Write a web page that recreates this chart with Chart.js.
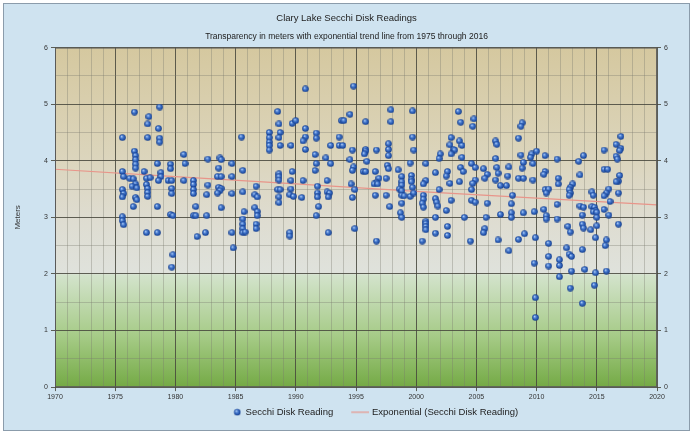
<!DOCTYPE html>
<html>
<head>
<meta charset="utf-8">
<script src="https://cdn.jsdelivr.net/npm/chart.js@4.4.1/dist/chart.umd.min.js"></script>
<style>
html,body{margin:0;padding:0;background:#ffffff;}
#wrap{width:693px;height:434px;position:relative;}
</style>
</head>
<body>
<div id="wrap"><canvas id="c" width="693" height="434"></canvas></div>
<script>
// ---------- DATA ----------
const chartTitle = "Clary Lake Secchi Disk Readings";
const chartSubtitle = "Transparency in meters with exponential trend line from 1975 through 2016";
const yAxisTitle = "Meters";
const seriesNames = ["Secchi Disk Reading", "Exponential (Secchi Disk Reading)"];

// [decimal year, meters]
const readings = [
[1976.6,4.86],[1978.7,4.95],[1977.8,4.78],[1977.7,4.65],[1978.6,4.57],[1975.6,4.41],[1977.7,4.41],
[1978.7,4.40],[1978.7,4.33],[1976.6,4.17],[1976.7,4.09],[1976.7,4.02],[1976.7,3.94],[1976.7,3.87],
[1980.7,4.11],[1980.8,3.95],[1982.7,4.03],[1978.5,3.95],[1979.6,3.94],[1979.6,3.86],[1975.6,3.81],
[1975.7,3.72],[1977.4,3.81],[1978.8,3.79],[1978.8,3.72],[1976.2,3.69],[1976.5,3.68],[1976.7,3.59],
[1977.6,3.69],[1977.9,3.70],[1978.6,3.65],[1979.4,3.65],[1979.7,3.65],[1980.7,3.65],[1981.5,3.65],
[1981.5,3.58],[1982.7,3.57],[1976.4,3.55],[1976.8,3.52],[1977.6,3.58],[1977.7,3.51],[1977.7,3.44],
[1977.7,3.37],[1975.6,3.49],[1975.7,3.42],[1975.6,3.36],[1976.7,3.35],[1976.8,3.31],[1979.7,3.51],
[1979.7,3.42],[1981.5,3.49],[1981.5,3.42],[1982.6,3.40],[1976.5,3.19],[1978.5,3.19],[1981.7,3.19],
[1979.6,3.05],[1979.8,3.03],[1981.5,3.03],[1981.7,3.03],[1982.6,3.03],[1975.6,3.01],[1975.6,2.94],
[1975.7,2.87],[1977.6,2.73],[1978.5,2.73],[1981.8,2.66],[1982.5,2.73],[1979.8,2.34],[1979.7,2.12],
[1990.8,5.27],[1994.8,5.32],[1988.5,4.87],[1988.6,4.65],[1989.7,4.66],[1990.0,4.71],[1993.8,4.71],
[1994.0,4.71],[1994.5,4.82],[1987.8,4.50],[1987.8,4.41],[1987.8,4.33],[1987.8,4.27],[1987.8,4.19],
[1988.7,4.50],[1988.6,4.41],[1988.7,4.27],[1989.6,4.27],[1990.8,4.57],[1990.8,4.42],[1990.6,4.35],
[1990.8,4.20],[1991.7,4.49],[1991.7,4.40],[1985.5,4.42],[1992.9,4.27],[1993.6,4.27],[1993.9,4.27],
[1994.7,4.19],[1993.6,4.42],[1991.6,4.11],[1983.7,4.05],[1983.8,4.02],[1984.7,3.95],[1992.5,4.05],
[1992.9,3.95],[1991.7,3.95],[1994.5,4.02],[1994.8,3.89],[1994.7,3.83],[1983.6,3.87],[1985.6,3.83],
[1991.6,3.83],[1989.7,3.81],[1983.5,3.72],[1983.8,3.72],[1984.7,3.72],[1988.6,3.77],[1988.6,3.72],
[1988.6,3.66],[1989.6,3.65],[1990.6,3.65],[1992.6,3.65],[1983.6,3.53],[1983.8,3.51],[1983.7,3.47],
[1986.7,3.55],[1994.6,3.59],[1994.9,3.49],[1991.8,3.55],[1991.8,3.43],[1991.8,3.36],[1988.5,3.49],
[1988.7,3.49],[1989.6,3.50],[1992.6,3.45],[1992.8,3.43],[1992.7,3.36],[1983.5,3.43],[1984.7,3.42],
[1985.6,3.45],[1986.6,3.40],[1986.8,3.36],[1989.5,3.40],[1989.8,3.37],[1990.5,3.35],[1988.6,3.36],
[1988.6,3.26],[1994.7,3.35],[1983.8,3.17],[1991.9,3.19],[1986.6,3.17],[1986.8,3.10],[1986.8,3.03],
[1985.7,3.10],[1991.7,3.03],[1985.6,2.97],[1985.6,2.88],[1985.6,2.80],[1985.6,2.73],[1985.8,2.74],
[1986.7,2.88],[1986.7,2.80],[1994.9,2.80],[1984.7,2.73],[1989.5,2.73],[1989.5,2.67],[1992.7,2.73],
[1984.8,2.46],
[1997.9,4.90],[1999.7,4.88],[1995.8,4.69],[1997.9,4.69],[2003.5,4.87],[2003.7,4.68],[2004.8,4.74],
[2004.7,4.61],[1999.7,4.42],[2002.9,4.41],[2003.6,4.35],[2003.8,4.27],[2006.6,4.35],[2006.7,4.29],
[1997.7,4.30],[1997.7,4.20],[1997.7,4.09],[1995.8,4.20],[1995.8,4.17],[1995.7,4.12],[1996.7,4.19],
[1999.8,4.19],[2002.8,4.28],[2003.1,4.20],[2003.2,4.19],[2002.9,4.12],[2002.0,4.12],[2001.9,4.04],
[2003.8,4.06],[2006.6,4.04],[1995.9,3.99],[1997.6,3.92],[1997.7,3.86],[1999.5,3.96],[2000.8,3.95],
[1995.6,3.81],[1995.8,3.81],[1996.6,3.81],[1998.5,3.84],[2001.6,3.79],[2002.6,3.81],[2002.5,3.73],
[2003.7,3.88],[2003.9,3.81],[2004.6,3.95],[2004.9,3.88],[2005.6,3.86],[2005.9,3.76],[2005.7,3.69],
[2006.7,3.88],[2006.8,3.78],[2007.6,3.73],[1996.9,3.69],[1996.7,3.62],[1997.5,3.69],[1998.8,3.72],
[1999.6,3.74],[1999.6,3.67],[1999.6,3.63],[2000.8,3.65],[2000.6,3.59],[1996.5,3.59],[1996.8,3.59],
[1998.8,3.63],[1998.8,3.57],[2002.8,3.60],[2003.6,3.63],[2004.9,3.66],[2004.7,3.60],[2006.6,3.66],
[2007.0,3.56],[1998.6,3.50],[1998.8,3.47],[1999.7,3.53],[2001.9,3.49],[2004.6,3.49],[2007.5,3.56],
[1996.6,3.39],[1997.5,3.39],[1998.8,3.39],[1999.0,3.38],[1999.5,3.37],[1999.8,3.43],[2000.6,3.39],
[2000.6,3.32],[2001.6,3.33],[2001.7,3.27],[2002.9,3.30],[2004.6,3.30],[2004.9,3.27],[2005.9,3.25],
[1997.8,3.19],[1998.8,3.25],[2000.5,3.25],[2000.6,3.18],[2001.8,3.20],[2002.5,3.12],[1998.7,3.08],
[1998.8,3.00],[2001.6,3.00],[2004.0,3.00],[2005.8,3.00],[2007.0,3.05],[2000.8,2.93],[2000.8,2.89],
[2000.8,2.84],[2000.8,2.78],[2002.6,2.84],[2005.7,2.80],[2005.6,2.73],[2001.6,2.72],[2002.6,2.68],
[1996.7,2.58],[2000.5,2.58],[2004.5,2.58],[2006.8,2.60],[2007.7,2.41],
[2008.8,4.67],[2008.7,4.61],[2008.5,4.40],[2017.0,4.43],[2016.6,4.29],[2017.0,4.22],[2016.9,4.18],
[2015.6,4.19],[2016.6,4.08],[2016.7,4.03],[2008.7,4.10],[2009.6,4.12],[2010.0,4.17],[2009.5,4.06],
[2010.7,4.09],[2011.7,4.03],[2013.9,4.09],[2013.5,3.99],[2008.9,3.97],[2008.8,3.87],[2009.7,3.95],
[2007.7,3.89],[2015.6,3.85],[2015.9,3.85],[2010.7,3.81],[2010.6,3.76],[2013.6,3.75],[2016.9,3.74],
[2016.8,3.64],[2016.6,3.63],[2008.5,3.69],[2008.9,3.69],[2009.7,3.66],[2011.8,3.69],[2011.8,3.59],
[2013.0,3.59],[2012.8,3.53],[2012.7,3.49],[2010.7,3.49],[2011.0,3.50],[2010.8,3.43],[2016.0,3.50],
[2015.8,3.43],[2015.6,3.38],[2016.8,3.43],[2012.8,3.43],[2012.7,3.39],[2014.6,3.45],[2014.7,3.39],
[2008.0,3.39],[2016.1,3.28],[2007.9,3.24],[2011.7,3.23],[2013.6,3.20],[2013.8,3.04],[2014.6,3.19],
[2014.8,3.18],[2014.9,3.12],[2014.7,3.10],[2015.0,3.09],[2013.9,3.18],[2015.6,3.14],[2016.0,3.04],
[2010.6,3.14],[2010.8,3.03],[2010.8,2.97],[2009.8,3.10],[2008.9,3.08],[2007.9,3.08],[2007.9,3.00],
[2011.7,2.97],[2015.0,3.00],[2015.0,2.85],[2013.8,2.88],[2013.9,2.81],[2014.5,2.78],[2012.6,2.84],
[2012.8,2.74],[2016.8,2.88],[2009.0,2.71],[2008.5,2.61],[2009.9,2.64],[2011.0,2.54],[2014.9,2.64],
[2015.8,2.60],[2015.7,2.50],[2012.5,2.46],[2012.7,2.35],[2012.9,2.31],[2011.0,2.31],[2011.9,2.25],
[2011.9,2.15],[2013.8,2.43],[2009.8,2.19],[2012.9,2.05],[2014.0,2.08],[2014.9,2.02],[2015.8,2.05],
[2011.9,1.95],[2011.0,2.14],[2009.9,1.58],[2009.9,1.23],[2013.8,1.48],[2012.8,1.75],[2014.8,1.80]
];

// exponential trend line
const trendYears  = [1970, 1980, 1990, 2000, 2010, 2020];
const trendValues = [3.85, 3.72, 3.59, 3.46, 3.34, 3.22];

const xMin = 1970, xMax = 2020, xMajor = 5;
const yMin = 0, yMax = 6, yMajor = 1, yMinor = 0.5;

// ---------- STYLE HELPERS ----------
function drawBall(g, cx, cy, r){
  const grad = g.createRadialGradient(cx-1, cy-1.2, 0.3, cx, cy, r);
  grad.addColorStop(0,'#b5d0f5');
  grad.addColorStop(0.35,'#4b7fd2');
  grad.addColorStop(0.8,'#1f4ea6');
  grad.addColorStop(1,'#183f88');
  g.fillStyle = grad;
  g.beginPath(); g.arc(cx, cy, r, 0, Math.PI*2); g.fill();
}
function makeBall(){
  const c = document.createElement('canvas');
  c.width = 7; c.height = 7;
  drawBall(c.getContext('2d'), 3.5, 3.5, 3.3);
  return c;
}
// legend images: drawn off-centre so the marker sits close to its text
function makeLegendBall(){
  const c = document.createElement('canvas');
  c.width = 31; c.height = 8;
  drawBall(c.getContext('2d'), 27, 4, 3.3);
  return c;
}
function makeLegendLine(){
  const c = document.createElement('canvas');
  c.width = 34; c.height = 4;
  const g = c.getContext('2d');
  g.strokeStyle = '#e8958a'; g.lineWidth = 1.2;
  g.beginPath(); g.moveTo(16,2); g.lineTo(34,2); g.stroke();
  return c;
}
const ball = makeBall();
const legendBall = makeLegendBall();
const legendLine = makeLegendLine();

const MAJOR = 'rgba(70,70,60,0.85)';
const MINOR = 'rgba(120,120,110,0.35)';
const FONT = '"Liberation Sans", Arial, sans-serif';

const bgPlugin = {
  id:'bg',
  afterLayout(chart){
    if (chart.legend){ chart.legend.left += 18; chart.legend.right += 18; }
  },
  beforeDraw(chart){
    const {ctx, chartArea:a, width, height} = chart;
    ctx.save();
    ctx.fillStyle = '#ffffff';
    ctx.fillRect(0,0,width,height);
    ctx.fillStyle = '#cfe3f0';
    ctx.fillRect(3,3,width-6,height-6);
    ctx.strokeStyle = '#8b9cab';
    ctx.lineWidth = 1;
    ctx.strokeRect(3.5,3.5,width-7,height-7);
    const g = ctx.createLinearGradient(0,a.top,0,a.bottom);
    g.addColorStop(0,'#d5c89f');
    g.addColorStop(0.3,'#dbd4ba');
    g.addColorStop(0.5,'#dedcd0');
    g.addColorStop(0.665,'#dfe2dc');
    g.addColorStop(0.67,'#d3e3cc');
    g.addColorStop(0.85,'#a6cb87');
    g.addColorStop(1,'#74aa45');
    ctx.fillStyle = g;
    ctx.fillRect(a.left,a.top,a.right-a.left,a.bottom-a.top);
    ctx.restore();
  },
  afterDatasetsDraw(chart){
    const {ctx, chartArea:a} = chart;
    ctx.save();
    ctx.strokeStyle = 'rgba(90,90,90,0.9)';
    ctx.lineWidth = 1;
    ctx.strokeRect(a.left+0.5,a.top+0.5,a.right-a.left-1,a.bottom-a.top-1);
    ctx.restore();
  }
};

const tickFont = {family:FONT, size:7};
const isMajorY = (v) => Math.abs(v % yMajor) < 1e-9;

new Chart(document.getElementById('c'), {
  type:'scatter',
  data:{
    datasets:[
      {
        label: seriesNames[0],
        data: readings.map(p => ({x:p[0], y:p[1]})),
        pointStyle: ball,
        pointRadius: 3.5,
        order: 1
      },
      {
        type:'line',
        label: seriesNames[1],
        data: trendYears.map((x,i)=>({x, y:trendValues[i]})),
        borderColor:'#e8958a',
        borderWidth:1.2,
        pointRadius:0,
        fill:false,
        tension:0,
        order: 2
      }
    ]
  },
  options:{
    responsive:false,
    animation:false,
    devicePixelRatio:1,
    layout:{padding:{left:0,right:0,top:0,bottom:7}},
    plugins:{
      title:{display:true, text:chartTitle, color:'#222',
        font:{family:FONT, size:9.5, weight:'normal'},
        padding:{top:13,bottom:2}},
      subtitle:{display:true, text:chartSubtitle, color:'#222',
        font:{family:FONT, size:8.5, weight:'normal'},
        padding:{top:5,bottom:6}},
      legend:{display:true, position:'bottom',
        labels:{usePointStyle:true, pointStyleWidth:30, padding:4, color:'#222',
          font:{family:FONT, size:9.5},
          generateLabels(chart){
            const items = Chart.defaults.plugins.legend.labels.generateLabels(chart);
            items[0].pointStyle = legendBall;
            items[1].pointStyle = legendLine;
            return items;
          }}},
      tooltip:{enabled:false}
    },
    scales:{
      x:{type:'linear', min:xMin, max:xMax, position:'bottom',
        ticks:{stepSize:1, autoSkip:false, maxRotation:0, minRotation:0, color:'#333', font:tickFont, padding:2,
          callback:(v)=> (v % xMajor === 0 ? String(v) : '')},
        grid:{color:(c)=> (c.tick && c.tick.value % xMajor === 0 ? MAJOR : MINOR),
          tickColor:(c)=> (c.tick && c.tick.value % xMajor === 0 ? MAJOR : 'rgba(0,0,0,0)'),
          tickLength:4, lineWidth:1},
        border:{display:false}
      },
      y:{type:'linear', min:yMin, max:yMax, position:'left',
        afterFit(s){ s.width = 55; },
        title:{display:true, text:yAxisTitle, color:'#333',
          font:{family:FONT, size:8}, padding:{top:13,bottom:0}},
        ticks:{stepSize:yMinor, color:'#333', font:tickFont, padding:3,
          callback:(v)=> (isMajorY(v) ? String(v) : '')},
        grid:{color:(c)=> (c.tick && isMajorY(c.tick.value) ? MAJOR : MINOR),
          tickColor:(c)=> (c.tick && isMajorY(c.tick.value) ? MAJOR : 'rgba(0,0,0,0)'),
          tickLength:4, lineWidth:1},
        border:{display:false}
      },
      y2:{type:'linear', min:yMin, max:yMax, position:'right',
        afterFit(s){ s.width = 36; },
        ticks:{stepSize:yMinor, color:'#333', font:tickFont, padding:3,
          callback:(v)=> (isMajorY(v) ? String(v) : '')},
        grid:{drawOnChartArea:false,
          tickColor:(c)=> (c.tick && isMajorY(c.tick.value) ? MAJOR : 'rgba(0,0,0,0)'),
          tickLength:4},
        border:{display:false}
      }
    }
  },
  plugins:[bgPlugin]
});
</script>
</body>
</html>
